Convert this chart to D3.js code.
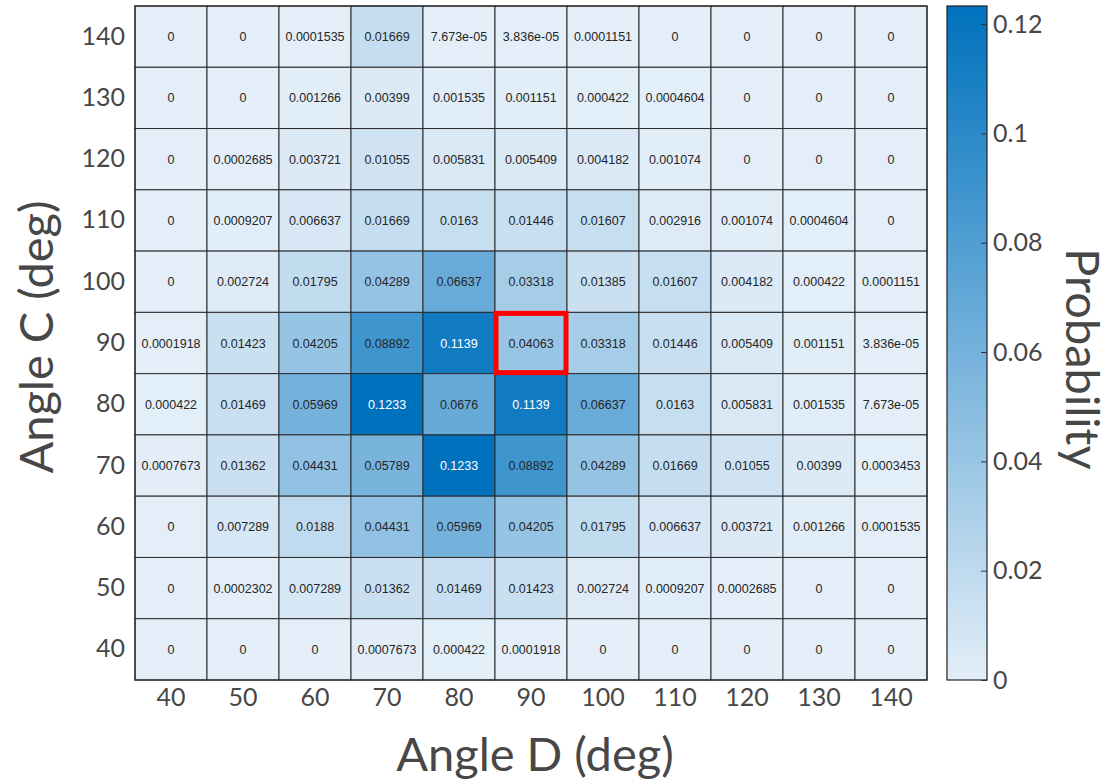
<!DOCTYPE html>
<html>
<head>
<meta charset="utf-8">
<script src="https://cdn.jsdelivr.net/npm/d3@7"></script>
<style>
  html, body { margin: 0; padding: 0; background: #fff; }
  svg { display: block; }
</style>
</head>
<body>
<svg id="chart" width="1112" height="784"></svg>
<script>
// Joint probability of Angle C (rows) and Angle D (columns)
const angleD = [40, 50, 60, 70, 80, 90, 100, 110, 120, 130, 140];
const angleC = [140, 130, 120, 110, 100, 90, 80, 70, 60, 50, 40];

const row140 = [0, 0, 0.0001535, 0.01669, 7.673e-05, 3.836e-05, 0.0001151, 0, 0, 0, 0];
const row130 = [0, 0, 0.001266, 0.00399, 0.001535, 0.001151, 0.000422, 0.0004604, 0, 0, 0];
const row120 = [0, 0.0002685, 0.003721, 0.01055, 0.005831, 0.005409, 0.004182, 0.001074, 0, 0, 0];
const row110 = [0, 0.0009207, 0.006637, 0.01669, 0.0163, 0.01446, 0.01607, 0.002916, 0.001074, 0.0004604, 0];
const row100 = [0, 0.002724, 0.01795, 0.04289, 0.06637, 0.03318, 0.01385, 0.01607, 0.004182, 0.000422, 0.0001151];
const row90  = [0.0001918, 0.01423, 0.04205, 0.08892, 0.1139, 0.04063, 0.03318, 0.01446, 0.005409, 0.001151, 3.836e-05];
const row80  = [0.000422, 0.01469, 0.05969, 0.1233, 0.0676, 0.1139, 0.06637, 0.0163, 0.005831, 0.001535, 7.673e-05];
const row70  = [0.0007673, 0.01362, 0.04431, 0.05789, 0.1233, 0.08892, 0.04289, 0.01669, 0.01055, 0.00399, 0.0003453];
const row60  = [0, 0.007289, 0.0188, 0.04431, 0.05969, 0.04205, 0.01795, 0.006637, 0.003721, 0.001266, 0.0001535];
const row50  = [0, 0.0002302, 0.007289, 0.01362, 0.01469, 0.01423, 0.002724, 0.0009207, 0.0002685, 0, 0];
const row40  = [0, 0, 0, 0.0007673, 0.000422, 0.0001918, 0, 0, 0, 0, 0];
const rows = [row140, row130, row120, row110, row100, row90, row80, row70, row60, row50, row40];

const colorbarTicks = [0, 0.02, 0.04, 0.06, 0.08, 0.1, 0.12];
const highlightD = 90;
const highlightC = 90;

// layout
const svg = d3.select("#chart");
const plotLeft = 135, plotRight = 927, plotTop = 6, plotBottom = 680;
const cbLeft = 947, cbRight = 987;
const tickFont = "Lato, 'Open Sans', sans-serif";
const textGrey = "#474747";

const x = d3.scaleBand().domain(angleD).range([plotLeft, plotRight]);
const y = d3.scaleBand().domain(angleC).range([plotTop, plotBottom]);
const maxVal = d3.max(rows.flat());
const color = d3.scaleLinear().domain([0, maxVal]).range(["#e3eef8", "#0072bd"]);

// %g-style label with 4 significant digits
function fmtG(v) {
  if (v === 0) return "0";
  const e = Math.floor(Math.log10(Math.abs(v)));
  if (e < -4 || e >= 4) {
    let [m, ex] = v.toExponential(3).split("e");
    m = m.replace(/\.?0+$/, "");
    const sign = ex[0] === "-" ? "-" : "+";
    const digits = ex.replace(/^[-+]/, "").padStart(2, "0");
    return m + "e" + sign + digits;
  }
  return v.toPrecision(4).replace(/(\.\d*?)0+$/, "$1").replace(/\.$/, "");
}

const cells = [];
angleC.forEach((c, i) => angleD.forEach((d, j) => cells.push({ c, d, v: rows[i][j] })));

const gCells = svg.append("g");
gCells.selectAll("rect")
  .data(cells)
  .join("rect")
  .attr("x", d => x(d.d))
  .attr("y", d => y(d.c))
  .attr("width", x.bandwidth())
  .attr("height", y.bandwidth())
  .attr("fill", d => color(d.v))
  .attr("stroke", "#2b2b2b")
  .attr("stroke-width", 1);

gCells.selectAll("text")
  .data(cells)
  .join("text")
  .attr("x", d => x(d.d) + x.bandwidth() / 2)
  .attr("y", d => y(d.c) + y.bandwidth() / 2)
  .attr("dy", "0.36em")
  .attr("text-anchor", "middle")
  .attr("font-family", "'Liberation Sans', Arial, sans-serif")
  .attr("font-size", 12.5)
  .attr("fill", d => d.v > 0.1 ? "#ffffff" : "#262626")
  .text(d => fmtG(d.v));

// outer frame
svg.append("rect")
  .attr("x", plotLeft).attr("y", plotTop)
  .attr("width", plotRight - plotLeft).attr("height", plotBottom - plotTop)
  .attr("fill", "none").attr("stroke", "#222").attr("stroke-width", 1.2);

// highlighted cell
svg.append("rect")
  .attr("x", x(highlightD) + 1)
  .attr("y", y(highlightC) + 1)
  .attr("width", x.bandwidth() - 2)
  .attr("height", y.bandwidth() - 2)
  .attr("fill", "none")
  .attr("stroke", "#ff0000")
  .attr("stroke-width", 5);

// axes
const xAxis = svg.append("g")
  .attr("transform", `translate(0,${plotBottom})`)
  .call(d3.axisBottom(x).tickSize(0).tickPadding(8));
const yAxis = svg.append("g")
  .attr("transform", `translate(${plotLeft},0)`)
  .call(d3.axisLeft(y).tickSize(0).tickPadding(10));
[xAxis, yAxis].forEach(g => {
  g.select(".domain").remove();
  g.selectAll("text")
    .attr("font-family", tickFont)
    .attr("font-size", 25)
    .attr("fill", textGrey);
});

// colour bar
const defs = svg.append("defs");
const grad = defs.append("linearGradient")
  .attr("id", "cbGrad")
  .attr("x1", 0).attr("y1", 1).attr("x2", 0).attr("y2", 0);
const cbScale = d3.scaleLinear().domain([0, maxVal]).range([plotBottom, plotTop]);
d3.range(0, 1.0001, 0.1).forEach(t => {
  grad.append("stop")
    .attr("offset", t)
    .attr("stop-color", color(t * maxVal));
});
svg.append("rect")
  .attr("x", cbLeft).attr("y", plotTop)
  .attr("width", cbRight - cbLeft).attr("height", plotBottom - plotTop)
  .attr("fill", "url(#cbGrad)")
  .attr("stroke", "#222").attr("stroke-width", 1.2);

const cbAxis = svg.append("g")
  .attr("transform", `translate(${cbRight},0)`)
  .call(d3.axisRight(cbScale)
    .tickValues(colorbarTicks)
    .tickSize(-6)
    .tickPadding(6)
    .tickFormat(d => fmtG(d)));
cbAxis.select(".domain").remove();
cbAxis.selectAll("line").attr("stroke", "#333");
cbAxis.selectAll("text")
  .attr("x", 6)
  .attr("font-family", tickFont)
  .attr("font-size", 25)
  .attr("fill", textGrey);

// axis titles
svg.append("text")
  .attr("x", (plotLeft + plotRight) / 2 + 4)
  .attr("y", 771)
  .attr("text-anchor", "middle")
  .attr("font-family", tickFont)
  .attr("font-size", 47)
  .attr("fill", textGrey)
  .text("Angle D (deg)");

svg.append("text")
  .attr("transform", `translate(53,${(plotTop + plotBottom) / 2 - 6}) rotate(-90)`)
  .attr("text-anchor", "middle")
  .attr("font-family", tickFont)
  .attr("font-size", 47)
  .attr("fill", textGrey)
  .text("Angle C (deg)");

svg.append("text")
  .attr("transform", `translate(1066,${(plotTop + plotBottom) / 2 + 16}) rotate(90)`)
  .attr("text-anchor", "middle")
  .attr("font-family", tickFont)
  .attr("font-size", 47)
  .attr("fill", textGrey)
  .text("Probability");
</script>
</body>
</html>
